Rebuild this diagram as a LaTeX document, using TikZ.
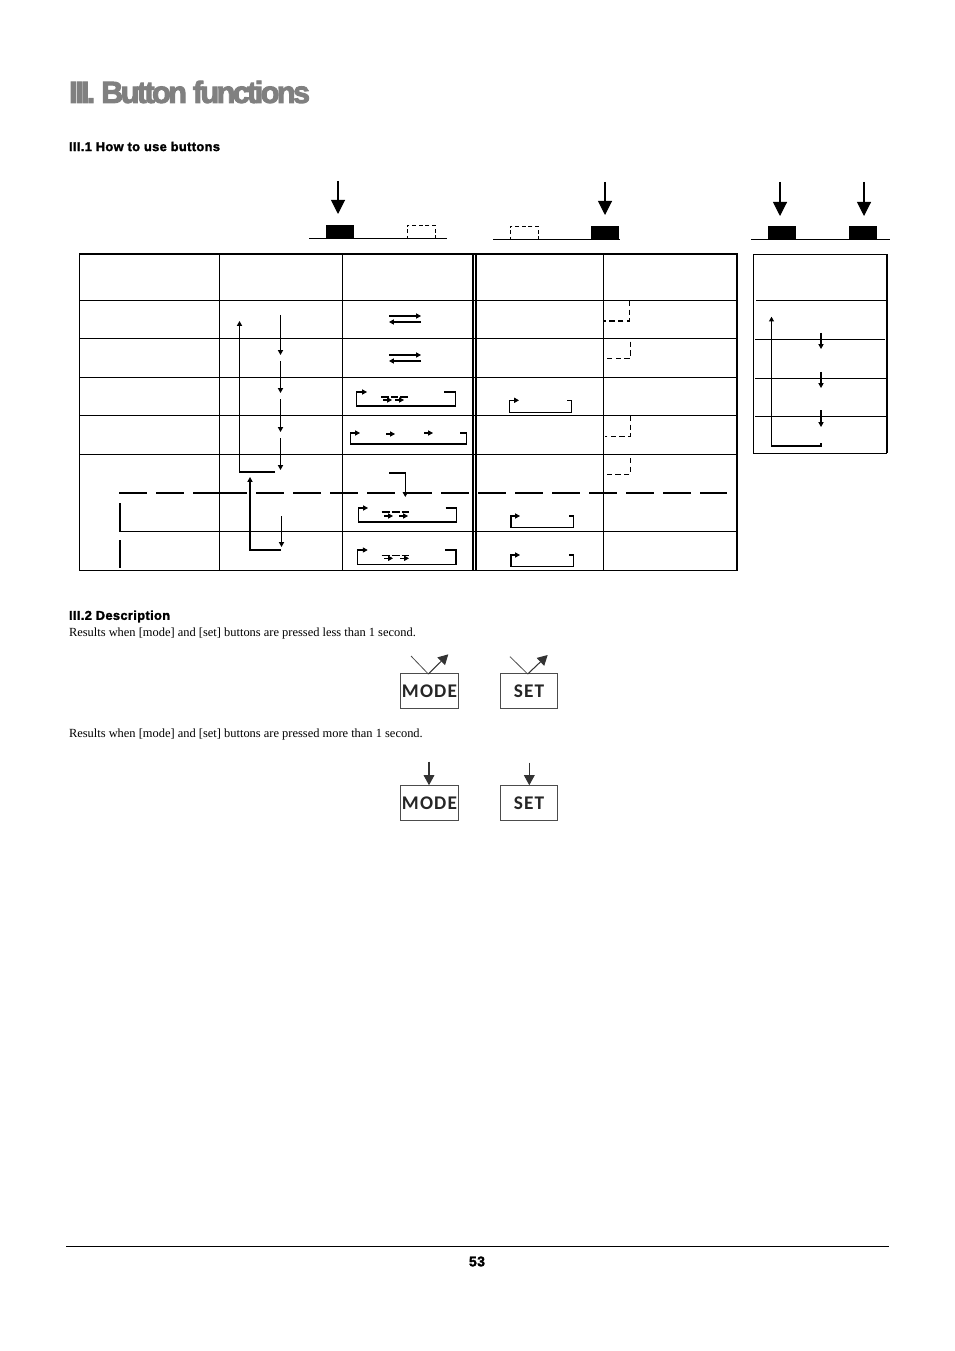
\documentclass[tikz,border=0pt]{standalone}
\usepackage{fontspec}
\setmainfont{Liberation Serif}
\newfontfamily\titlefont[BoldFeatures={FakeBold=3},LetterSpace=-8.5]{Liberation Sans}
\newfontfamily\headfont[BoldFeatures={FakeBold=2},LetterSpace=3]{Liberation Sans}
\newfontfamily\lcdfont[LetterSpace=6]{Carlito}
\usetikzlibrary{arrows.meta}
\definecolor{titlegray}{RGB}{128,128,128}

\begin{document}
\begin{tikzpicture}[x=0.75pt,y=-0.75pt,line width=0.78pt,
    keycap/.style={rectangle,fill=black,inner sep=0pt,minimum width=21pt,minimum height=9.75pt},
    ghostcap/.style={rectangle,draw,dashed,dash pattern=on 3pt off 2pt,line width=0.6pt,inner sep=0pt,minimum width=21pt,minimum height=9.75pt},
    panel/.style={rectangle,draw=black!70,line width=0.7pt,inner sep=0pt,minimum width=43.2pt,minimum height=26pt,font=\lcdfont\bfseries\fontsize{14.5}{15}\selectfont,text=black!85},
    press/.style={-{Triangle[length=10.5pt,width=10.5pt]}},
    tap/.style={-{Triangle[length=7.5pt,width=8pt]},black!80},
    flow/.style={-{Triangle[length=3.6pt,width=3.8pt]}},
    held/.style={dash pattern=on 4pt off 2.5pt},
    label/.style={anchor=west,inner sep=0pt}]

    \useasboundingbox (0,0) rectangle (954,1351);

    \node[label,text=titlegray,font=\titlefont\bfseries\fontsize{23}{24}\selectfont] (title) at (68.5,92) {III. Button functions};
    \node[label,font=\headfont\bfseries\fontsize{9.6}{10}\selectfont] (howto) at (68.5,146.5) {III.1 How to use buttons};

    % Keys above the table
    \node[keycap] (keyA) at (339.5,231.5) {};
    \node[ghostcap] (ghostA) at (421,231.5) {};
    \node[keycap] (keyB) at (605,232.5) {};
    \node[ghostcap] (ghostB) at (524,232.5) {};
    \node[keycap] (keyC) at (782,232.5) {};
    \node[keycap] (keyD) at (863,232.5) {};
    \coordinate (startA) at (338,181);
    \coordinate (endA) at (338,214);
    \coordinate (startB) at (605,182);
    \coordinate (endB) at (605,215);
    \coordinate (startC) at (780,182);
    \coordinate (endC) at (780,216);
    \coordinate (startD) at (864,182);
    \coordinate (endD) at (864,216);
    \draw[press] (startA) -- (endA);
    \draw[press] (startB) -- (endB);
    \draw[press] (startC) -- (endC);
    \draw[press] (startD) -- (endD);
    \draw (309,238.5) -- (447,238.5);
    \draw (493,239.5) -- (620,239.5);
    \draw (751,239.5) -- (890,239.5);

    % Main table
    \draw (79.5,254) rectangle (737,570.5);
    \draw (219.5,254) -- (219.5,570.5);
    \draw (342.5,254) -- (342.5,570.5);
    \draw (473,254) -- (473,570.5);
    \draw (476,254) -- (476,570.5);
    \draw (603.5,254) -- (603.5,570.5);
    \draw (79.5,300.5) -- (737,300.5);
    \draw (79.5,338.5) -- (737,338.5);
    \draw (79.5,377.5) -- (737,377.5);
    \draw (79.5,415.5) -- (737,415.5);
    \draw (79.5,454.5) -- (737,454.5);
    \draw (119,531.5) -- (737,531.5);
    \draw (120,503) -- (120,531.5);
    \draw (120,540) -- (120,568);
    \draw[dash pattern=on 21pt off 6.75pt] (119,493) -- (221,493);
    \draw (221,493) -- (247,493);
    \draw[dash pattern=on 21pt off 6.75pt] (256,493) -- (727,493);

    % Column 2
    \draw[flow] (275,472) -- (239.5,472) -- (239.5,321);
    \draw[flow] (280.5,315) -- (280.5,355);
    \draw[flow] (280.5,361) -- (280.5,393);
    \draw[flow] (280.5,399) -- (280.5,432);
    \draw[flow] (280.5,438) -- (280.5,470);
    \draw[flow] (281,550) -- (250,550) -- (250,477);
    \draw[flow] (281.5,516) -- (281.5,547);

    % Column 3
    \draw[flow] (389,316) -- (421,316);
    \draw[flow] (421,322) -- (389,322);
    \draw[flow] (389,355) -- (421,355);
    \draw[flow] (421,361) -- (389,361);
    \draw[flow] (444,392) -- (455.7,392) -- (455.7,406) -- (356.3,406) -- (356.3,392) -- (367,392);
    \draw (381,397) -- (389,397) (391,397) -- (398,397) (400,397) -- (408,397);
    \draw[flow] (383,400) -- (392,400);
    \draw[flow] (395,400) -- (404,400);
    \draw[flow] (460,433) -- (466.7,433) -- (466.7,444) -- (350.3,444) -- (350.3,433) -- (360,433);
    \draw[flow] (386,434) -- (395,434);
    \draw[flow] (424,433) -- (433,433);
    \draw[flow] (389,473) -- (405.3,473) -- (405.3,497);
    \draw[flow] (445.7,508) -- (456.7,508) -- (456.7,522) -- (358.3,522) -- (358.3,508) -- (368,508);
    \draw (381.7,512) -- (390,512) (391.7,512) -- (400,512) (401.7,512) -- (409.3,512);
    \draw[flow] (384,516) -- (393,516);
    \draw[flow] (399,516) -- (408,516);
    \draw[flow] (445,550) -- (456,550) -- (456,564.3) -- (357.3,564.3) -- (357.3,550) -- (367.7,550);
    \draw (381.7,555.7) -- (390,555.7) (391.7,555.7) -- (400,555.7) (401.7,555.7) -- (409.3,555.7);
    \draw[flow] (384,558.3) -- (393,558.3);
    \draw[flow] (400,558.3) -- (409,558.3);

    % Column 4
    \draw[flow] (567.3,400.3) -- (571.7,400.3) -- (571.7,412.3) -- (509.3,412.3) -- (509.3,400.3) -- (519,400.3);
    \draw[flow] (569,516) -- (573.3,516) -- (573.3,527.3) -- (511,527.3) -- (511,516) -- (520,516);
    \draw[flow] (569,555) -- (573.3,555) -- (573.3,566.7) -- (511,566.7) -- (511,555) -- (520,555);

    % Column 5
    \draw[held] (629.3,301) -- (629.3,321) -- (603.5,321);
    \draw[held] (630.3,341.7) -- (630.3,358.3) -- (605,358.3);
    \draw[held] (630.3,416) -- (630.3,436.3) -- (605,436.3);
    \draw[held] (630.3,458) -- (630.3,474.3) -- (605,474.3);

    % Side table
    \draw (753.5,254.3) -- (886.7,254.3);
    \draw (753.5,254.3) -- (753.5,453.3) -- (886.7,453.3);
    \draw[line width=1.3pt] (886.7,254.3) -- (886.7,453.3);
    \draw (756,300.5) -- (886,300.5);
    \draw (755,339.5) -- (885,339.5);
    \draw (755,378.5) -- (886,378.5);
    \draw (755,416.5) -- (886,416.5);
    \draw[flow] (821,443) -- (821,446) -- (771.5,446) -- (771.5,316.7);
    \draw[flow] (821,333) -- (821,349);
    \draw[flow] (821,372) -- (821,388);
    \draw[flow] (821,410) -- (821,427);

    % Description
    \node[label,font=\headfont\bfseries\fontsize{9.6}{10}\selectfont] (descr) at (68.5,616.5) {III.2 Description};
    \node[label,font=\fontsize{9.33}{11}\selectfont] (lessline) at (68.5,633.5) {Results when [mode] and [set] buttons are pressed less than 1 second.};
    \node[label,font=\fontsize{9.33}{11}\selectfont] (moreline) at (68.5,734.5) {Results when [mode] and [set] buttons are pressed more than 1 second.};

    \node[panel] (modeA) at (429.5,691) {MODE};
    \node[panel] (setA) at (529,691) {SET};
    \node[panel] (modeB) at (429.5,803) {MODE};
    \node[panel] (setB) at (529,803) {SET};

    \coordinate (inM) at (411,656);
    \coordinate (outM) at (448.3,654.3);
    \coordinate (inS) at (510,656.7);
    \coordinate (outS) at (547.7,655);
    \coordinate (topM) at (429,761.7);
    \coordinate (topS) at (529.3,762.7);
    \draw[black!70,line width=0.6pt] (inM) -- (428.3,674);
    \draw[tap] (428.3,674) -- (outM);
    \draw[black!70,line width=0.6pt] (inS) -- (527.7,674);
    \draw[tap] (527.7,674) -- (outS);
    \draw[tap] (topM) -- (modeB.north -| topM);
    \draw[tap] (topS) -- (setB.north -| topS);

    % Footer
    \draw (66,1246.5) -- (889,1246.5);
    \node[font=\headfont\bfseries\fontsize{10.5}{11}\selectfont,inner sep=0pt] (pageno) at (477,1261.5) {53};
\end{tikzpicture}
\end{document}
